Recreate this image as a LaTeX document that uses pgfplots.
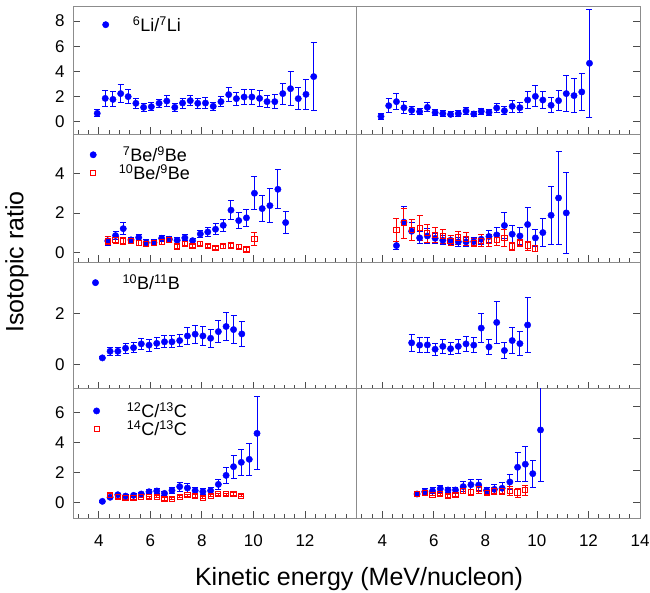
\documentclass[border=0pt]{standalone}
\usepackage{fontspec}
\setmainfont{Liberation Sans}
\usepackage{pgfplots}
\pgfplotsset{compat=1.18}
\definecolor{framec}{gray}{0.55}
\definecolor{tickc}{gray}{0.3}

\pgfplotsset{
  panel/.style={
    scale only axis, width=283.5pt,
    xmin=3, xmax=14,
    xtick={4,6,8,10,12,14},
    minor xtick={3.2,3.6,4.4,4.8,5.2,5.6,6.4,6.8,7.2,7.6,8.4,8.8,9.2,9.6,10.4,10.8,11.2,11.6,12.4,12.8,13.2,13.6},
    xtick pos=lower,
    tick align=inside,
    major tick length=7pt, minor tick length=4pt,
    axis line style={draw=framec, line width=0.9pt},
    tick style={draw=tickc, line width=0.8pt},
    xticklabels={},
    tick label style={font=\fontsize{17}{17}\selectfont},
    xticklabel style={yshift=-13pt},
    /pgf/number format/assume math mode=true,
    legend image code/.code={\draw[##1] plot coordinates {(0pt,0pt)};},
    legend style={draw=none, fill=none, font=\fontsize{18}{20}\selectfont,
      inner sep=0pt, outer sep=0pt, nodes={inner sep=0pt},
      cells={anchor=west}, row sep=1.5pt, anchor=west,
      /tikz/every odd column/.style={column sep=24pt}},
  },
  leftp/.style={panel, ytick pos=left, yticklabel style={xshift=-5pt}},
  rightp/.style={panel, ytick pos=right, yticklabels={}},
  blu/.style={only marks, mark=*, mark size=3.2pt, color=blue, mark options={fill=blue},
    error bars/.cd, y dir=both, y explicit,
    error bar style={line width=1pt, blue},
    error mark options={rotate=90, mark size=3pt, line width=1pt, blue}},
  rd/.style={only marks, mark=square, mark size=2.6pt, color=red, mark options={line width=1pt},
    error bars/.cd, y dir=both, y explicit,
    error bar style={line width=1pt, red},
    error mark options={rotate=90, mark size=3pt, line width=1pt, red}},
}

% ---- 6Li/7Li ----
\pgfplotstableread{
x y e
3.94 0.66 0.27
4.25 1.85 0.66
4.55 1.77 0.60
4.85 2.23 0.70
5.14 1.99 0.58
5.44 1.46 0.40
5.74 1.14 0.32
6.04 1.19 0.30
6.34 1.46 0.32
6.64 1.64 0.42
6.95 1.14 0.33
7.25 1.48 0.40
7.55 1.67 0.40
7.84 1.46 0.40
8.14 1.48 0.41
8.44 1.22 0.32
8.74 1.59 0.40
9.04 2.15 0.57
9.34 1.83 0.52
9.64 1.96 0.57
9.94 1.96 0.61
10.24 1.85 0.61
10.53 1.59 0.49
10.83 1.59 0.53
11.14 2.23 0.83
11.44 2.62 1.35
11.74 1.83 0.89
12.04 2.17 1.19
12.34 3.58 2.68
}\LiA
\pgfplotstableread{
x y e
3.95 0.42 0.26
4.25 1.27 0.55
4.55 1.59 0.65
4.84 1.11 0.49
5.14 0.90 0.34
5.45 0.79 0.26
5.75 1.14 0.37
6.05 0.72 0.21
6.35 0.64 0.21
6.65 0.58 0.19
6.95 0.64 0.24
7.25 0.85 0.29
7.55 0.61 0.21
7.84 0.82 0.26
8.14 0.74 0.26
8.44 1.09 0.34
8.74 0.87 0.32
9.04 1.22 0.48
9.34 1.11 0.38
9.64 1.72 0.66
9.94 2.01 0.83
10.23 1.72 0.69
10.55 1.30 0.61
10.84 1.67 0.82
11.14 2.23 1.40
11.44 2.07 1.36
11.74 2.36 1.50
12.04 4.64 4.30
}\LiB

% ---- Be ----
\pgfplotstableread{
x y e
4.35 0.58 0.22
4.65 0.85 0.20
4.95 1.20 0.32
5.25 0.63 0.14
5.55 0.75 0.14
5.84 0.49 0.14
6.14 0.49 0.14
6.44 0.71 0.14
6.74 0.66 0.14
7.04 0.61 0.15
7.34 0.73 0.15
7.64 0.59 0.12
7.94 0.93 0.19
8.23 1.03 0.24
8.53 1.17 0.27
8.83 1.37 0.31
9.13 2.14 0.50
9.43 1.61 0.42
9.73 1.75 0.44
10.04 3.00 0.85
10.34 2.22 0.66
10.64 2.37 0.86
10.95 3.20 0.99
11.25 1.51 0.57
}\BeSevA
\pgfplotstableread{
x y e
4.35 0.58 0.20
4.65 0.64 0.18
4.95 0.58 0.17
5.25 0.58 0.12
5.55 0.46 0.12
5.84 0.42 0.10
6.14 0.46 0.10
6.44 0.53 0.12
6.74 0.61 0.12
7.04 0.29 0.12
7.34 0.44 0.12
7.64 0.32 0.10
7.94 0.44 0.10
8.23 0.32 0.10
8.53 0.20 0.08
8.83 0.31 0.10
9.13 0.34 0.10
9.43 0.27 0.10
9.73 0.14 0.08
10.04 0.66 0.32
}\BeTenA
\pgfplotstableread{
x y e
4.55 0.34 0.20
4.84 1.53 0.81
5.14 1.07 0.46
5.45 0.73 0.30
5.75 0.83 0.36
6.05 0.71 0.24
6.35 0.61 0.22
6.65 0.61 0.22
6.95 0.53 0.23
7.25 0.53 0.22
7.55 0.54 0.22
7.84 0.66 0.26
8.14 0.80 0.30
8.44 0.88 0.38
8.74 1.36 0.68
9.04 0.92 0.45
9.34 0.83 0.42
9.64 1.41 0.85
9.94 0.73 0.42
10.23 1.00 0.73
10.55 1.88 1.47
10.84 2.76 2.36
11.14 2.00 2.05
}\BeSevB
\pgfplotstableread{
x y e
4.55 1.14 0.59
4.84 1.47 0.76
5.14 1.14 0.55
5.45 1.25 0.64
5.75 0.97 0.45
6.05 0.88 0.37
6.35 0.81 0.35
6.65 0.58 0.25
6.95 0.75 0.33
7.25 0.68 0.32
7.55 0.49 0.19
7.84 0.58 0.31
8.14 0.58 0.31
8.44 0.64 0.32
8.74 0.73 0.42
9.04 0.29 0.20
9.34 0.47 0.19
9.64 0.34 0.23
9.94 0.19 0.14
}\BeTenB

% ---- B ----
\pgfplotstableread{
x y e
4.14 0.25 0.04
4.44 0.51 0.15
4.74 0.51 0.16
5.04 0.63 0.20
5.35 0.65 0.20
5.65 0.80 0.22
5.95 0.75 0.24
6.25 0.82 0.22
6.55 0.88 0.24
6.84 0.88 0.24
7.14 0.93 0.25
7.44 1.11 0.35
7.74 1.18 0.35
8.04 1.11 0.36
8.34 1.02 0.36
8.64 1.28 0.44
8.94 1.48 0.56
9.23 1.36 0.54
9.55 1.19 0.48
}\BA
\pgfplotstableread{
x y e
5.14 0.84 0.34
5.45 0.75 0.30
5.75 0.76 0.28
6.05 0.59 0.23
6.35 0.70 0.26
6.65 0.61 0.23
6.95 0.70 0.27
7.25 0.80 0.28
7.55 0.75 0.29
7.84 1.42 0.56
8.14 0.68 0.29
8.44 1.64 0.83
8.74 0.54 0.30
9.04 0.93 0.52
9.34 0.81 0.48
9.64 1.54 1.08
}\BB

% ---- C ----
\pgfplotstableread{
x y e
4.14 0.09 0.05
4.44 0.36 0.10
4.74 0.53 0.10
5.04 0.44 0.10
5.35 0.49 0.10
5.65 0.58 0.12
5.95 0.73 0.15
6.25 0.78 0.15
6.55 0.62 0.15
6.84 0.82 0.18
7.14 1.07 0.30
7.44 0.98 0.30
7.74 0.80 0.20
8.04 0.73 0.20
8.34 0.80 0.18
8.64 1.22 0.33
8.94 1.82 0.53
9.23 2.40 0.77
9.53 2.69 0.88
9.84 2.89 1.06
10.14 4.62 2.43
}\CTwA
\pgfplotstableread{
x y e
4.44 0.51 0.10
4.74 0.36 0.08
5.04 0.31 0.08
5.35 0.31 0.08
5.65 0.40 0.08
5.95 0.36 0.08
6.25 0.40 0.08
6.55 0.24 0.08
6.84 0.27 0.08
7.14 0.40 0.08
7.44 0.49 0.08
7.74 0.44 0.08
8.04 0.33 0.08
8.34 0.47 0.08
8.64 0.56 0.08
8.94 0.56 0.08
9.23 0.58 0.10
9.53 0.47 0.08
}\CFoA
\pgfplotstableread{
x y e
5.35 0.50 0.08
5.65 0.64 0.19
5.95 0.69 0.19
6.25 0.83 0.23
6.55 0.75 0.17
6.84 0.75 0.17
7.14 0.96 0.31
7.44 1.08 0.33
7.74 1.06 0.36
8.05 0.73 0.17
8.35 0.79 0.33
8.65 0.86 0.37
8.95 1.25 0.49
9.25 2.17 0.92
9.55 2.36 1.11
9.84 1.77 0.84
10.14 4.50 3.19
}\CTwB
\pgfplotstableread{
x y e
5.35 0.50 0.06
5.65 0.56 0.08
5.95 0.46 0.08
6.25 0.48 0.08
6.55 0.37 0.08
6.84 0.44 0.08
7.14 0.69 0.19
7.44 0.62 0.19
7.74 0.79 0.23
8.05 0.56 0.09
8.35 0.69 0.23
8.65 0.67 0.23
8.95 0.67 0.28
9.25 0.59 0.28
9.55 0.73 0.33
}\CFoB

\begin{document}
\begin{tikzpicture}
\path[use as bounding box] (0,0) rectangle (650pt,592pt);

% row 1: lithium
\begin{axis}[leftp, at={(73pt,458pt)}, anchor=south west, height=128pt,
  ymin=-0.98, ymax=9.19, ytick={0,2,4,6,8},
  legend style={at={(0.104,0.854)}}]
\addplot[blu] table[x=x,y=y,y error=e]{\LiA};
\addlegendentry{\textsuperscript{6}Li/\textsuperscript{7}Li}
\end{axis}
\begin{axis}[rightp, at={(356.5pt,458pt)}, anchor=south west, height=128pt,
  ymin=-0.98, ymax=9.19, ytick={0,2,4,6,8}]
\addplot[blu] table[x=x,y=y,y error=e]{\LiB};
\end{axis}

% row 2: beryllium
\begin{axis}[leftp, at={(73pt,329.5pt)}, anchor=south west, height=128.5pt,
  ymin=-0.52, ymax=6.01, ytick={0,2,4},
  legend style={at={(0.060,0.768)}}]
\addplot[blu] table[x=x,y=y,y error=e]{\BeSevA};
\addlegendentry{\hspace{2.5pt}\textsuperscript{7}Be/\textsuperscript{9}Be}
\addplot[rd] table[x=x,y=y,y error=e]{\BeTenA};
\addlegendentry{\hspace{-1.5pt}\textsuperscript{10}Be/\textsuperscript{9}Be}
\end{axis}
\begin{axis}[rightp, at={(356.5pt,329.5pt)}, anchor=south west, height=128.5pt,
  ymin=-0.52, ymax=6.01, ytick={0,1,2,3,4,5}]
\addplot[blu] table[x=x,y=y,y error=e]{\BeSevB};
\addplot[rd] table[x=x,y=y,y error=e]{\BeTenB};
\end{axis}

% row 3: boron
\begin{axis}[leftp, at={(73pt,203.5pt)}, anchor=south west, height=126pt,
  ymin=-0.95, ymax=3.99, ytick={0,2},
  legend style={at={(0.068,0.840)}}]
\addplot[blu] table[x=x,y=y,y error=e]{\BA};
\addlegendentry{\textsuperscript{10}B/\textsuperscript{11}B}
\end{axis}
\begin{axis}[rightp, at={(356.5pt,203.5pt)}, anchor=south west, height=126pt,
  ymin=-0.95, ymax=3.99, ytick={0,2}]
\addplot[blu] table[x=x,y=y,y error=e]{\BB};
\end{axis}

% row 4: carbon
\begin{axis}[leftp, at={(73pt,74pt)}, anchor=south west, height=129.5pt,
  ymin=-1.02, ymax=7.61, ytick={0,2,4,6},
  xticklabels={4,6,8,10,12,{}},
  legend style={at={(0.072,0.757)}}]
\addplot[blu] table[x=x,y=y,y error=e]{\CTwA};
\addlegendentry{\hspace{3pt}\textsuperscript{12}C/\textsuperscript{13}C}
\addplot[rd] table[x=x,y=y,y error=e]{\CFoA};
\addlegendentry{\hspace{3pt}\textsuperscript{14}C/\textsuperscript{13}C}
\end{axis}
% the right carbon panel carries its own vertical scale
\begin{axis}[rightp, at={(356.5pt,74pt)}, anchor=south west, height=129.5pt,
  ymin=-1.0, ymax=7.09, ytick={0,2,4,6},
  xticklabels={4,6,8,10,12,14}]
\addplot[blu] table[x=x,y=y,y error=e]{\CTwB};
\addplot[rd] table[x=x,y=y,y error=e]{\CFoB};
\end{axis}

\node[rotate=90, font=\fontsize{25}{25}\selectfont] at (17pt,330pt) {Isotopic ratio};
\node[font=\fontsize{25}{25}\selectfont] at (359pt,13pt) {Kinetic energy (MeV/nucleon)};
\end{tikzpicture}
\end{document}
